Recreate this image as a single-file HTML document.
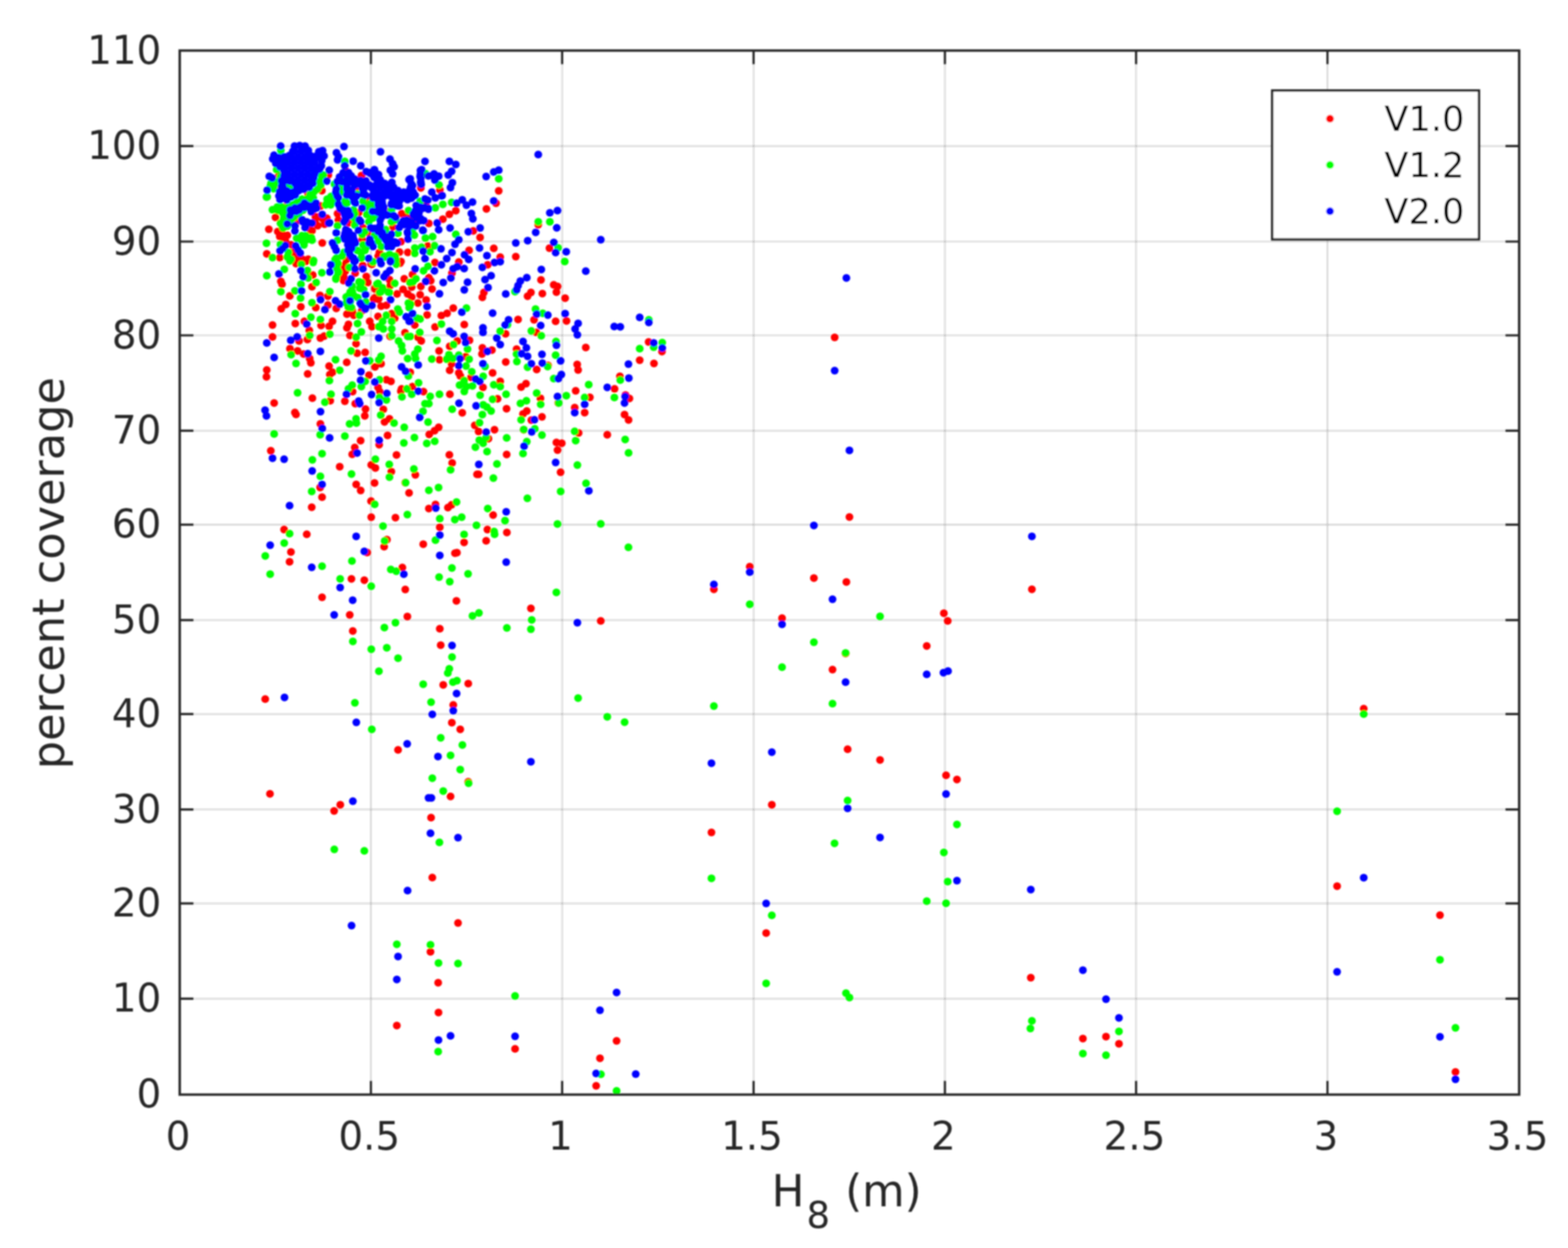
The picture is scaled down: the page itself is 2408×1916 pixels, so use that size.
<!DOCTYPE html>
<html lang="en"><head><meta charset="utf-8"><title>percent coverage vs H8</title>
<style>html,body{margin:0;padding:0;background:#fff}svg{display:block}text{font-family:"DejaVu Sans","Liberation Sans",sans-serif;fill:#262626}.tk{font-size:59.6px}.lb{font-size:67px}.lg{font-size:54px;fill:#000}</style></head><body>
<svg width="2408" height="1916" viewBox="0 0 2408 1916">
<rect x="0" y="0" width="2408" height="1916" fill="#fff"/>
<defs><filter id="sf" filterUnits="userSpaceOnUse" x="0" y="0" width="2408" height="1916"><feGaussianBlur stdDeviation="1.1"/></filter></defs>
<g filter="url(#sf)">
<path d="M569.6 77.6V1680.5M863.3 77.6V1680.5M1157.3 77.6V1680.5M1451.1 77.6V1680.5M1744.7 77.6V1680.5M2038.6 77.6V1680.5" stroke="#262626" stroke-opacity="0.17" stroke-width="2.4" fill="none"/><path d="M276.0 1533.3H2333.0M276.0 1387.0H2333.0M276.0 1242.7H2333.0M276.0 1096.2H2333.0M276.0 952.0H2333.0M276.0 805.5H2333.0M276.0 661.3H2333.0M276.0 514.9H2333.0M276.0 370.9H2333.0M276.0 224.3H2333.0" stroke="#262626" stroke-opacity="0.17" stroke-width="2.4" fill="none"/>
<g fill="#ff0000">
<circle cx="428.4" cy="269.1" r="6.0"/><circle cx="424.9" cy="288.6" r="6.0"/><circle cx="494.3" cy="292.7" r="6.0"/><circle cx="473.3" cy="298.5" r="6.0"/><circle cx="504.2" cy="268.8" r="6.0"/><circle cx="555.1" cy="269.4" r="6.0"/><circle cx="531.5" cy="263.0" r="6.0"/><circle cx="545.8" cy="292.7" r="6.0"/><circle cx="423.1" cy="333.8" r="6.0"/><circle cx="412.9" cy="351.9" r="6.0"/><circle cx="437.1" cy="317.5" r="6.0"/><circle cx="426.6" cy="355.4" r="6.0"/><circle cx="429.6" cy="363.0" r="6.0"/><circle cx="435.4" cy="367.1" r="6.0"/><circle cx="441.2" cy="361.2" r="6.0"/><circle cx="432.5" cy="358.3" r="6.0"/><circle cx="438.3" cy="370.0" r="6.0"/><circle cx="484.4" cy="332.7" r="6.0"/><circle cx="487.9" cy="346.6" r="6.0"/><circle cx="479.1" cy="354.2" r="6.0"/><circle cx="498.4" cy="344.3" r="6.0"/><circle cx="496.0" cy="336.2" r="6.0"/><circle cx="501.9" cy="335.0" r="6.0"/><circle cx="494.9" cy="372.9" r="6.0"/><circle cx="409.7" cy="389.8" r="6.0"/><circle cx="429.6" cy="395.6" r="6.0"/><circle cx="456.4" cy="338.5" r="6.0"/><circle cx="447.1" cy="375.8" r="6.0"/><circle cx="450.0" cy="387.5" r="6.0"/><circle cx="455.8" cy="396.2" r="6.0"/><circle cx="464.5" cy="398.0" r="6.0"/><circle cx="473.3" cy="398.0" r="6.0"/><circle cx="492.5" cy="316.3" r="6.0"/><circle cx="476.2" cy="352.5" r="6.0"/><circle cx="483.8" cy="340.8" r="6.0"/><circle cx="490.8" cy="332.7" r="6.0"/><circle cx="518.4" cy="328.0" r="6.0"/><circle cx="519.6" cy="337.9" r="6.0"/><circle cx="565.1" cy="308.7" r="6.0"/><circle cx="551.1" cy="326.2" r="6.0"/><circle cx="536.5" cy="342.0" r="6.0"/><circle cx="557.5" cy="349.6" r="6.0"/><circle cx="597.7" cy="324.5" r="6.0"/><circle cx="617.0" cy="328.0" r="6.0"/><circle cx="626.3" cy="332.7" r="6.0"/><circle cx="603.5" cy="348.4" r="6.0"/><circle cx="566.8" cy="358.3" r="6.0"/><circle cx="556.3" cy="367.6" r="6.0"/><circle cx="582.6" cy="387.5" r="6.0"/><circle cx="580.8" cy="393.3" r="6.0"/><circle cx="613.5" cy="386.9" r="6.0"/><circle cx="626.3" cy="387.5" r="6.0"/><circle cx="615.8" cy="371.1" r="6.0"/><circle cx="531.8" cy="399.1" r="6.0"/><circle cx="615.8" cy="401.5" r="6.0"/><circle cx="675.5" cy="291.5" r="6.0"/><circle cx="646.3" cy="288.6" r="6.0"/><circle cx="765.9" cy="292.9" r="6.0"/><circle cx="761.8" cy="312.0" r="6.0"/><circle cx="653.9" cy="315.5" r="6.0"/><circle cx="700.0" cy="323.6" r="6.0"/><circle cx="690.1" cy="328.9" r="6.0"/><circle cx="747.0" cy="320.7" r="6.0"/><circle cx="680.1" cy="336.4" r="6.0"/><circle cx="658.6" cy="342.9" r="6.0"/><circle cx="726.8" cy="354.5" r="6.0"/><circle cx="634.7" cy="339.9" r="6.0"/><circle cx="737.3" cy="364.4" r="6.0"/><circle cx="656.8" cy="377.8" r="6.0"/><circle cx="720.4" cy="384.3" r="6.0"/><circle cx="758.3" cy="381.3" r="6.0"/><circle cx="768.2" cy="394.8" r="6.0"/><circle cx="454.6" cy="404.7" r="6.0"/><circle cx="469.8" cy="401.2" r="6.0"/><circle cx="480.3" cy="422.2" r="6.0"/><circle cx="529.3" cy="411.7" r="6.0"/><circle cx="528.1" cy="427.4" r="6.0"/><circle cx="556.7" cy="408.7" r="6.0"/><circle cx="571.3" cy="405.8" r="6.0"/><circle cx="614.4" cy="404.1" r="6.0"/><circle cx="431.3" cy="432.1" r="6.0"/><circle cx="433.1" cy="436.2" r="6.0"/><circle cx="479.1" cy="440.2" r="6.0"/><circle cx="562.5" cy="424.5" r="6.0"/><circle cx="564.8" cy="433.8" r="6.0"/><circle cx="598.1" cy="429.2" r="6.0"/><circle cx="599.2" cy="438.5" r="6.0"/><circle cx="620.8" cy="428.0" r="6.0"/><circle cx="445.1" cy="454.2" r="6.0"/><circle cx="503.6" cy="454.8" r="6.0"/><circle cx="491.4" cy="453.6" r="6.0"/><circle cx="575.9" cy="443.7" r="6.0"/><circle cx="609.7" cy="451.3" r="6.0"/><circle cx="619.1" cy="444.3" r="6.0"/><circle cx="626.1" cy="451.3" r="6.0"/><circle cx="573.6" cy="459.5" r="6.0"/><circle cx="580.6" cy="459.5" r="6.0"/><circle cx="438.9" cy="467.6" r="6.0"/><circle cx="431.9" cy="474.1" r="6.0"/><circle cx="462.0" cy="470.9" r="6.0"/><circle cx="485.0" cy="472.3" r="6.0"/><circle cx="503.6" cy="468.2" r="6.0"/><circle cx="516.4" cy="473.5" r="6.0"/><circle cx="585.2" cy="470.0" r="6.0"/><circle cx="593.4" cy="468.8" r="6.0"/><circle cx="453.5" cy="496.8" r="6.0"/><circle cx="467.5" cy="493.3" r="6.0"/><circle cx="510.6" cy="493.3" r="6.0"/><circle cx="505.4" cy="500.9" r="6.0"/><circle cx="493.1" cy="499.7" r="6.0"/><circle cx="532.8" cy="482.2" r="6.0"/><circle cx="543.3" cy="484.0" r="6.0"/><circle cx="535.1" cy="498.0" r="6.0"/><circle cx="532.8" cy="503.2" r="6.0"/><circle cx="567.8" cy="493.3" r="6.0"/><circle cx="571.3" cy="501.5" r="6.0"/><circle cx="580.6" cy="485.7" r="6.0"/><circle cx="601.6" cy="481.6" r="6.0"/><circle cx="606.2" cy="488.6" r="6.0"/><circle cx="418.5" cy="499.1" r="6.0"/><circle cx="418.5" cy="517.2" r="6.0"/><circle cx="475.0" cy="507.3" r="6.0"/><circle cx="492.0" cy="519.0" r="6.0"/><circle cx="497.8" cy="516.0" r="6.0"/><circle cx="537.4" cy="514.9" r="6.0"/><circle cx="599.2" cy="516.6" r="6.0"/><circle cx="622.0" cy="510.8" r="6.0"/><circle cx="459.3" cy="523.6" r="6.0"/><circle cx="472.1" cy="521.3" r="6.0"/><circle cx="546.8" cy="527.7" r="6.0"/><circle cx="445.3" cy="535.3" r="6.0"/><circle cx="457.0" cy="538.8" r="6.0"/><circle cx="548.5" cy="542.3" r="6.0"/><circle cx="560.8" cy="541.1" r="6.0"/><circle cx="466.3" cy="543.4" r="6.0"/><circle cx="475.6" cy="550.4" r="6.0"/><circle cx="477.4" cy="556.9" r="6.0"/><circle cx="532.5" cy="556.3" r="6.0"/><circle cx="585.2" cy="558.6" r="6.0"/><circle cx="575.9" cy="563.3" r="6.0"/><circle cx="409.7" cy="567.9" r="6.0"/><circle cx="409.2" cy="578.4" r="6.0"/><circle cx="472.5" cy="574.1" r="6.0"/><circle cx="505.4" cy="562.1" r="6.0"/><circle cx="510.6" cy="571.4" r="6.0"/><circle cx="506.5" cy="574.9" r="6.0"/><circle cx="566.6" cy="576.1" r="6.0"/><circle cx="593.4" cy="583.1" r="6.0"/><circle cx="600.4" cy="585.4" r="6.0"/><circle cx="580.6" cy="594.8" r="6.0"/><circle cx="616.7" cy="597.1" r="6.0"/><circle cx="528.0" cy="407.5" r="6.0"/><circle cx="530.3" cy="416.2" r="6.0"/><circle cx="528.0" cy="425.0" r="6.0"/><circle cx="527.4" cy="430.8" r="6.0"/><circle cx="545.5" cy="419.2" r="6.0"/><circle cx="557.1" cy="407.5" r="6.0"/><circle cx="575.8" cy="457.1" r="6.0"/><circle cx="581.6" cy="458.8" r="6.0"/><circle cx="535.0" cy="480.4" r="6.0"/><circle cx="543.7" cy="483.3" r="6.0"/><circle cx="555.4" cy="477.5" r="6.0"/><circle cx="540.8" cy="476.3" r="6.0"/><circle cx="570.0" cy="405.2" r="6.0"/><circle cx="613.7" cy="401.7" r="6.0"/><circle cx="575.8" cy="442.5" r="6.0"/><circle cx="667.9" cy="402.9" r="6.0"/><circle cx="704.6" cy="402.3" r="6.0"/><circle cx="694.1" cy="419.2" r="6.0"/><circle cx="749.0" cy="406.4" r="6.0"/><circle cx="633.5" cy="421.6" r="6.0"/><circle cx="632.3" cy="440.8" r="6.0"/><circle cx="661.5" cy="430.9" r="6.0"/><circle cx="658.6" cy="426.2" r="6.0"/><circle cx="646.3" cy="439.7" r="6.0"/><circle cx="830.8" cy="429.7" r="6.0"/><circle cx="850.4" cy="437.3" r="6.0"/><circle cx="856.2" cy="439.7" r="6.0"/><circle cx="663.5" cy="443.7" r="6.0"/><circle cx="743.1" cy="449.0" r="6.0"/><circle cx="740.8" cy="456.6" r="6.0"/><circle cx="815.4" cy="449.0" r="6.0"/><circle cx="810.2" cy="454.8" r="6.0"/><circle cx="832.9" cy="450.7" r="6.0"/><circle cx="854.5" cy="448.4" r="6.0"/><circle cx="867.9" cy="457.7" r="6.0"/><circle cx="645.2" cy="452.5" r="6.0"/><circle cx="654.5" cy="460.6" r="6.0"/><circle cx="641.7" cy="465.3" r="6.0"/><circle cx="632.3" cy="456.0" r="6.0"/><circle cx="696.1" cy="473.1" r="6.0"/><circle cx="686.6" cy="481.0" r="6.0"/><circle cx="677.8" cy="484.5" r="6.0"/><circle cx="655.9" cy="483.4" r="6.0"/><circle cx="637.0" cy="499.1" r="6.0"/><circle cx="668.1" cy="502.0" r="6.0"/><circle cx="713.0" cy="498.3" r="6.0"/><circle cx="795.6" cy="490.4" r="6.0"/><circle cx="820.1" cy="491.0" r="6.0"/><circle cx="853.3" cy="493.3" r="6.0"/><circle cx="870.0" cy="492.7" r="6.0"/><circle cx="776.4" cy="512.5" r="6.0"/><circle cx="823.6" cy="510.2" r="6.0"/><circle cx="641.7" cy="517.8" r="6.0"/><circle cx="646.9" cy="523.6" r="6.0"/><circle cx="702.3" cy="523.6" r="6.0"/><circle cx="690.6" cy="531.8" r="6.0"/><circle cx="721.0" cy="522.4" r="6.0"/><circle cx="740.8" cy="534.1" r="6.0"/><circle cx="755.4" cy="537.6" r="6.0"/><circle cx="740.2" cy="543.4" r="6.0"/><circle cx="793.3" cy="535.9" r="6.0"/><circle cx="674.3" cy="538.8" r="6.0"/><circle cx="674.9" cy="552.2" r="6.0"/><circle cx="715.1" cy="547.5" r="6.0"/><circle cx="776.7" cy="555.7" r="6.0"/><circle cx="841.7" cy="560.9" r="6.0"/><circle cx="693.6" cy="558.6" r="6.0"/><circle cx="690.6" cy="568.5" r="6.0"/><circle cx="704.6" cy="572.6" r="6.0"/><circle cx="756.5" cy="572.6" r="6.0"/><circle cx="824.2" cy="567.3" r="6.0"/><circle cx="630.0" cy="571.4" r="6.0"/><circle cx="723.3" cy="579.6" r="6.0"/><circle cx="707.0" cy="577.3" r="6.0"/><circle cx="768.2" cy="585.4" r="6.0"/><circle cx="741.7" cy="594.8" r="6.0"/><circle cx="807.8" cy="588.9" r="6.0"/><circle cx="800.3" cy="594.2" r="6.0"/><circle cx="633.5" cy="593.6" r="6.0"/><circle cx="479.7" cy="611.3" r="6.0"/><circle cx="507.1" cy="615.2" r="6.0"/><circle cx="541.5" cy="601.2" r="6.0"/><circle cx="529.6" cy="616.0" r="6.0"/><circle cx="545.6" cy="619.8" r="6.0"/><circle cx="583.5" cy="601.7" r="6.0"/><circle cx="615.6" cy="600.6" r="6.0"/><circle cx="561.3" cy="628.0" r="6.0"/><circle cx="560.2" cy="638.5" r="6.0"/><circle cx="588.7" cy="628.6" r="6.0"/><circle cx="421.0" cy="618.7" r="6.0"/><circle cx="452.9" cy="633.2" r="6.0"/><circle cx="454.6" cy="636.2" r="6.0"/><circle cx="598.1" cy="643.1" r="6.0"/><circle cx="590.5" cy="647.8" r="6.0"/><circle cx="492.0" cy="650.7" r="6.0"/><circle cx="553.8" cy="676.6" r="6.0"/><circle cx="595.2" cy="668.5" r="6.0"/><circle cx="582.3" cy="682.8" r="6.0"/><circle cx="544.8" cy="686.9" r="6.0"/><circle cx="540.9" cy="697.4" r="6.0"/><circle cx="415.9" cy="692.1" r="6.0"/><circle cx="608.9" cy="698.5" r="6.0"/><circle cx="570.1" cy="713.7" r="6.0"/><circle cx="576.5" cy="718.4" r="6.0"/><circle cx="521.7" cy="716.6" r="6.0"/><circle cx="601.0" cy="724.0" r="6.0"/><circle cx="650.4" cy="601.2" r="6.0"/><circle cx="690.9" cy="605.2" r="6.0"/><circle cx="764.1" cy="612.2" r="6.0"/><circle cx="830.0" cy="611.4" r="6.0"/><circle cx="857.4" cy="618.4" r="6.0"/><circle cx="709.9" cy="633.8" r="6.0"/><circle cx="777.9" cy="627.6" r="6.0"/><circle cx="809.0" cy="630.9" r="6.0"/><circle cx="803.2" cy="635.6" r="6.0"/><circle cx="832.3" cy="640.0" r="6.0"/><circle cx="816.0" cy="644.9" r="6.0"/><circle cx="729.1" cy="653.1" r="6.0"/><circle cx="735.0" cy="662.4" r="6.0"/><circle cx="759.4" cy="659.7" r="6.0"/><circle cx="804.3" cy="659.7" r="6.0"/><circle cx="673.7" cy="656.0" r="6.0"/><circle cx="667.3" cy="661.2" r="6.0"/><circle cx="659.2" cy="667.1" r="6.0"/><circle cx="750.1" cy="673.5" r="6.0"/><circle cx="778.1" cy="697.7" r="6.0"/><circle cx="854.5" cy="679.3" r="6.0"/><circle cx="862.7" cy="680.5" r="6.0"/><circle cx="856.2" cy="691.0" r="6.0"/><circle cx="860.9" cy="725.1" r="6.0"/><circle cx="690.1" cy="698.3" r="6.0"/><circle cx="694.4" cy="710.8" r="6.0"/><circle cx="732.6" cy="728.3" r="6.0"/><circle cx="735.0" cy="728.3" r="6.0"/><circle cx="637.9" cy="728.9" r="6.0"/><circle cx="491.6" cy="748.4" r="6.0"/><circle cx="494.6" cy="763.3" r="6.0"/><circle cx="547.0" cy="743.7" r="6.0"/><circle cx="553.9" cy="753.1" r="6.0"/><circle cx="575.2" cy="741.5" r="6.0"/><circle cx="622.4" cy="740.9" r="6.0"/><circle cx="628.2" cy="756.8" r="6.0"/><circle cx="569.8" cy="769.3" r="6.0"/><circle cx="478.7" cy="778.8" r="6.0"/><circle cx="658.6" cy="780.7" r="6.0"/><circle cx="668.8" cy="774.5" r="6.0"/><circle cx="687.9" cy="779.2" r="6.0"/><circle cx="693.5" cy="774.9" r="6.0"/><circle cx="757.3" cy="790.8" r="6.0"/><circle cx="570.1" cy="794.1" r="6.0"/><circle cx="607.3" cy="794.7" r="6.0"/><circle cx="675.4" cy="809.4" r="6.0"/><circle cx="748.5" cy="813.1" r="6.0"/><circle cx="778.4" cy="817.4" r="6.0"/><circle cx="436.3" cy="813.1" r="6.0"/><circle cx="471.1" cy="820.2" r="6.0"/><circle cx="712.7" cy="832.7" r="6.0"/><circle cx="746.6" cy="830.3" r="6.0"/><circle cx="650.0" cy="835.5" r="6.0"/><circle cx="594.2" cy="828.6" r="6.0"/><circle cx="589.9" cy="839.3" r="6.0"/><circle cx="446.8" cy="847.5" r="6.0"/><circle cx="563.8" cy="848.2" r="6.0"/><circle cx="444.7" cy="862.6" r="6.0"/><circle cx="698.7" cy="849.2" r="6.0"/><circle cx="701.7" cy="848.6" r="6.0"/><circle cx="617.9" cy="871.2" r="6.0"/><circle cx="539.7" cy="888.7" r="6.0"/><circle cx="559.5" cy="890.8" r="6.0"/><circle cx="622.4" cy="904.9" r="6.0"/><circle cx="494.6" cy="916.9" r="6.0"/><circle cx="700.9" cy="922.5" r="6.0"/><circle cx="537.1" cy="944.1" r="6.0"/><circle cx="625.6" cy="946.6" r="6.0"/><circle cx="541.8" cy="968.8" r="6.0"/><circle cx="675.4" cy="965.2" r="6.0"/><circle cx="815.3" cy="934.1" r="6.0"/><circle cx="922.6" cy="953.3" r="6.0"/><circle cx="899.6" cy="533.6" r="6.0"/><circle cx="886.4" cy="559.6" r="6.0"/><circle cx="887.8" cy="568.0" r="6.0"/><circle cx="884.1" cy="600.1" r="6.0"/><circle cx="905.9" cy="609.9" r="6.0"/><circle cx="882.6" cy="625.8" r="6.0"/><circle cx="897.9" cy="633.6" r="6.0"/><circle cx="888.6" cy="664.8" r="6.0"/><circle cx="996.1" cy="525.0" r="6.0"/><circle cx="1016.6" cy="539.8" r="6.0"/><circle cx="982.4" cy="553.0" r="6.0"/><circle cx="1004.3" cy="558.1" r="6.0"/><circle cx="952.0" cy="577.7" r="6.0"/><circle cx="943.8" cy="596.9" r="6.0"/><circle cx="960.6" cy="606.6" r="6.0"/><circle cx="966.6" cy="611.8" r="6.0"/><circle cx="959.1" cy="636.4" r="6.0"/><circle cx="965.3" cy="644.8" r="6.0"/><circle cx="932.6" cy="667.6" r="6.0"/><circle cx="826.6" cy="345.1" r="6.0"/><circle cx="843.8" cy="381.1" r="6.0"/><circle cx="792.1" cy="394.0" r="6.0"/><circle cx="1281.8" cy="518.0" r="6.0"/><circle cx="1304.5" cy="793.7" r="6.0"/><circle cx="1151.4" cy="870.1" r="6.0"/><circle cx="1096.3" cy="904.8" r="6.0"/><circle cx="1249.9" cy="887.4" r="6.0"/><circle cx="1299.8" cy="893.6" r="6.0"/><circle cx="1584.7" cy="904.8" r="6.0"/><circle cx="1449.5" cy="941.4" r="6.0"/><circle cx="1455.4" cy="953.2" r="6.0"/><circle cx="1201.0" cy="949.0" r="6.0"/><circle cx="1298.6" cy="1003.3" r="6.0"/><circle cx="1423.2" cy="991.8" r="6.0"/><circle cx="1278.5" cy="1027.9" r="6.0"/><circle cx="1301.7" cy="1150.2" r="6.0"/><circle cx="1351.5" cy="1166.8" r="6.0"/><circle cx="1452.9" cy="1190.3" r="6.0"/><circle cx="1469.6" cy="1196.7" r="6.0"/><circle cx="1185.3" cy="1235.6" r="6.0"/><circle cx="1092.6" cy="1277.9" r="6.0"/><circle cx="1176.6" cy="1432.4" r="6.0"/><circle cx="1583.0" cy="1501.0" r="6.0"/><circle cx="1698.5" cy="1591.4" r="6.0"/><circle cx="1663.0" cy="1594.5" r="6.0"/><circle cx="1718.4" cy="1602.6" r="6.0"/><circle cx="2053.4" cy="1360.5" r="6.0"/><circle cx="2094.3" cy="1087.9" r="6.0"/><circle cx="2211.4" cy="1405.0" r="6.0"/><circle cx="2235.2" cy="1645.7" r="6.0"/><circle cx="522.6" cy="1235.4" r="6.0"/><circle cx="513.1" cy="1244.9" r="6.0"/><circle cx="691.9" cy="1222.8" r="6.0"/><circle cx="662.0" cy="1255.3" r="6.0"/><circle cx="663.9" cy="1347.3" r="6.0"/><circle cx="703.4" cy="1417.0" r="6.0"/><circle cx="661.1" cy="1461.3" r="6.0"/><circle cx="672.9" cy="1508.8" r="6.0"/><circle cx="673.4" cy="1554.5" r="6.0"/><circle cx="609.4" cy="1574.6" r="6.0"/><circle cx="791.0" cy="1610.2" r="6.0"/><circle cx="946.9" cy="1598.1" r="6.0"/><circle cx="921.4" cy="1624.7" r="6.0"/><circle cx="915.5" cy="1667.0" r="6.0"/><circle cx="676.8" cy="990.4" r="6.0"/><circle cx="680.7" cy="1051.4" r="6.0"/><circle cx="719.1" cy="1049.4" r="6.0"/><circle cx="407.3" cy="1073.2" r="6.0"/><circle cx="696.1" cy="1082.2" r="6.0"/><circle cx="693.9" cy="1109.6" r="6.0"/><circle cx="706.8" cy="1119.7" r="6.0"/><circle cx="611.3" cy="1151.3" r="6.0"/><circle cx="719.1" cy="1200.3" r="6.0"/><circle cx="414.6" cy="1218.7" r="6.0"/>
</g>
<g fill="#00ff00">
<circle cx="431.3" cy="230.9" r="6.0"/><circle cx="424.9" cy="260.6" r="6.0"/><circle cx="430.7" cy="271.1" r="6.0"/><circle cx="416.2" cy="281.6" r="6.0"/><circle cx="420.8" cy="284.5" r="6.0"/><circle cx="423.1" cy="278.7" r="6.0"/><circle cx="415.0" cy="286.3" r="6.0"/><circle cx="420.2" cy="289.8" r="6.0"/><circle cx="409.2" cy="302.6" r="6.0"/><circle cx="443.0" cy="285.7" r="6.0"/><circle cx="447.1" cy="287.5" r="6.0"/><circle cx="493.7" cy="270.0" r="6.0"/><circle cx="490.8" cy="278.7" r="6.0"/><circle cx="492.5" cy="284.5" r="6.0"/><circle cx="487.9" cy="290.4" r="6.0"/><circle cx="482.0" cy="294.5" r="6.0"/><circle cx="476.2" cy="298.5" r="6.0"/><circle cx="496.6" cy="268.8" r="6.0"/><circle cx="524.5" cy="287.5" r="6.0"/><circle cx="524.5" cy="294.5" r="6.0"/><circle cx="548.7" cy="298.0" r="6.0"/><circle cx="513.7" cy="282.8" r="6.0"/><circle cx="531.2" cy="276.4" r="6.0"/><circle cx="596.0" cy="296.2" r="6.0"/><circle cx="508.5" cy="301.5" r="6.0"/><circle cx="529.5" cy="247.8" r="6.0"/><circle cx="410.3" cy="302.3" r="6.0"/><circle cx="500.1" cy="314.6" r="6.0"/><circle cx="502.4" cy="305.8" r="6.0"/><circle cx="409.2" cy="373.5" r="6.0"/><circle cx="418.5" cy="395.6" r="6.0"/><circle cx="430.7" cy="375.2" r="6.0"/><circle cx="443.0" cy="387.5" r="6.0"/><circle cx="441.2" cy="394.5" r="6.0"/><circle cx="447.1" cy="398.0" r="6.0"/><circle cx="481.5" cy="400.0" r="6.0"/><circle cx="455.6" cy="365.7" r="6.0"/><circle cx="463.6" cy="369.4" r="6.0"/><circle cx="466.8" cy="376.0" r="6.0"/><circle cx="470.9" cy="368.1" r="6.0"/><circle cx="479.2" cy="368.8" r="6.0"/><circle cx="478.0" cy="364.8" r="6.0"/><circle cx="469.6" cy="361.8" r="6.0"/><circle cx="463.6" cy="361.8" r="6.0"/><circle cx="470.9" cy="367.7" r="6.0"/><circle cx="418.4" cy="322.0" r="6.0"/><circle cx="427.1" cy="322.9" r="6.0"/><circle cx="434.0" cy="327.1" r="6.0"/><circle cx="435.5" cy="335.7" r="6.0"/><circle cx="430.7" cy="342.7" r="6.0"/><circle cx="434.6" cy="350.0" r="6.0"/><circle cx="441.1" cy="347.3" r="6.0"/><circle cx="446.4" cy="340.4" r="6.0"/><circle cx="451.7" cy="333.5" r="6.0"/><circle cx="458.7" cy="328.3" r="6.0"/><circle cx="465.3" cy="322.7" r="6.0"/><circle cx="471.2" cy="316.3" r="6.0"/><circle cx="477.1" cy="309.9" r="6.0"/><circle cx="481.1" cy="303.9" r="6.0"/><circle cx="472.5" cy="304.8" r="6.0"/><circle cx="463.8" cy="305.8" r="6.0"/><circle cx="456.6" cy="310.6" r="6.0"/><circle cx="448.9" cy="314.7" r="6.0"/><circle cx="441.2" cy="318.7" r="6.0"/><circle cx="432.9" cy="317.8" r="6.0"/><circle cx="425.9" cy="317.8" r="6.0"/><circle cx="454.1" cy="312.6" r="6.0"/><circle cx="464.3" cy="312.6" r="6.0"/><circle cx="428.6" cy="321.5" r="6.0"/><circle cx="438.8" cy="321.5" r="6.0"/><circle cx="449.0" cy="321.5" r="6.0"/><circle cx="459.2" cy="321.5" r="6.0"/><circle cx="443.9" cy="330.3" r="6.0"/><circle cx="454.1" cy="330.3" r="6.0"/><circle cx="438.8" cy="339.1" r="6.0"/><circle cx="433.7" cy="348.0" r="6.0"/><circle cx="506.7" cy="305.8" r="6.0"/><circle cx="507.9" cy="314.6" r="6.0"/><circle cx="530.1" cy="308.7" r="6.0"/><circle cx="533.0" cy="311.7" r="6.0"/><circle cx="542.9" cy="322.2" r="6.0"/><circle cx="544.7" cy="328.0" r="6.0"/><circle cx="557.5" cy="308.7" r="6.0"/><circle cx="569.1" cy="311.7" r="6.0"/><circle cx="572.1" cy="316.3" r="6.0"/><circle cx="563.3" cy="329.2" r="6.0"/><circle cx="572.1" cy="335.0" r="6.0"/><circle cx="566.2" cy="340.8" r="6.0"/><circle cx="575.0" cy="333.2" r="6.0"/><circle cx="544.7" cy="345.5" r="6.0"/><circle cx="518.4" cy="346.6" r="6.0"/><circle cx="601.2" cy="340.8" r="6.0"/><circle cx="607.0" cy="337.9" r="6.0"/><circle cx="592.5" cy="352.5" r="6.0"/><circle cx="556.3" cy="360.1" r="6.0"/><circle cx="560.4" cy="355.4" r="6.0"/><circle cx="575.0" cy="361.2" r="6.0"/><circle cx="580.8" cy="370.0" r="6.0"/><circle cx="585.5" cy="378.7" r="6.0"/><circle cx="611.1" cy="358.3" r="6.0"/><circle cx="518.4" cy="368.8" r="6.0"/><circle cx="557.5" cy="375.8" r="6.0"/><circle cx="548.7" cy="384.5" r="6.0"/><circle cx="554.6" cy="387.5" r="6.0"/><circle cx="560.4" cy="384.5" r="6.0"/><circle cx="554.6" cy="396.2" r="6.0"/><circle cx="563.3" cy="378.7" r="6.0"/><circle cx="589.5" cy="393.3" r="6.0"/><circle cx="598.3" cy="390.4" r="6.0"/><circle cx="607.0" cy="393.3" r="6.0"/><circle cx="516.7" cy="396.2" r="6.0"/><circle cx="525.4" cy="393.3" r="6.0"/><circle cx="528.3" cy="387.5" r="6.0"/><circle cx="627.4" cy="323.3" r="6.0"/><circle cx="601.2" cy="322.2" r="6.0"/><circle cx="543.5" cy="335.0" r="6.0"/><circle cx="563.3" cy="317.5" r="6.0"/><circle cx="516.7" cy="308.7" r="6.0"/><circle cx="527.2" cy="315.2" r="6.0"/><circle cx="653.3" cy="266.5" r="6.0"/><circle cx="765.9" cy="274.6" r="6.0"/><circle cx="674.3" cy="284.0" r="6.0"/><circle cx="645.2" cy="309.0" r="6.0"/><circle cx="693.6" cy="310.8" r="6.0"/><circle cx="680.1" cy="313.7" r="6.0"/><circle cx="668.5" cy="319.0" r="6.0"/><circle cx="633.5" cy="351.6" r="6.0"/><circle cx="700.0" cy="359.8" r="6.0"/><circle cx="636.4" cy="360.9" r="6.0"/><circle cx="653.3" cy="365.6" r="6.0"/><circle cx="664.4" cy="363.3" r="6.0"/><circle cx="667.3" cy="377.3" r="6.0"/><circle cx="637.0" cy="380.8" r="6.0"/><circle cx="637.0" cy="388.9" r="6.0"/><circle cx="647.5" cy="379.6" r="6.0"/><circle cx="660.3" cy="386.6" r="6.0"/><circle cx="436.6" cy="413.4" r="6.0"/><circle cx="409.7" cy="423.3" r="6.0"/><circle cx="462.8" cy="405.8" r="6.0"/><circle cx="445.3" cy="400.6" r="6.0"/><circle cx="480.9" cy="402.9" r="6.0"/><circle cx="472.1" cy="415.2" r="6.0"/><circle cx="473.3" cy="426.8" r="6.0"/><circle cx="494.3" cy="418.7" r="6.0"/><circle cx="518.8" cy="404.7" r="6.0"/><circle cx="519.9" cy="417.5" r="6.0"/><circle cx="515.9" cy="428.6" r="6.0"/><circle cx="536.3" cy="410.5" r="6.0"/><circle cx="572.4" cy="402.3" r="6.0"/><circle cx="608.6" cy="405.8" r="6.0"/><circle cx="462.2" cy="436.2" r="6.0"/><circle cx="485.5" cy="433.8" r="6.0"/><circle cx="551.4" cy="432.7" r="6.0"/><circle cx="580.6" cy="435.0" r="6.0"/><circle cx="587.6" cy="442.0" r="6.0"/><circle cx="606.2" cy="435.0" r="6.0"/><circle cx="629.6" cy="433.8" r="6.0"/><circle cx="431.3" cy="447.8" r="6.0"/><circle cx="452.9" cy="446.6" r="6.0"/><circle cx="461.6" cy="457.7" r="6.0"/><circle cx="506.5" cy="447.8" r="6.0"/><circle cx="540.9" cy="447.8" r="6.0"/><circle cx="558.4" cy="444.3" r="6.0"/><circle cx="582.9" cy="449.0" r="6.0"/><circle cx="598.1" cy="449.0" r="6.0"/><circle cx="531.6" cy="456.0" r="6.0"/><circle cx="479.1" cy="464.7" r="6.0"/><circle cx="531.6" cy="465.3" r="6.0"/><circle cx="539.8" cy="472.3" r="6.0"/><circle cx="561.9" cy="463.6" r="6.0"/><circle cx="610.9" cy="474.6" r="6.0"/><circle cx="627.2" cy="465.3" r="6.0"/><circle cx="628.4" cy="472.3" r="6.0"/><circle cx="453.5" cy="481.6" r="6.0"/><circle cx="477.4" cy="486.9" r="6.0"/><circle cx="492.0" cy="490.4" r="6.0"/><circle cx="552.0" cy="484.0" r="6.0"/><circle cx="549.1" cy="496.8" r="6.0"/><circle cx="593.4" cy="484.0" r="6.0"/><circle cx="587.6" cy="493.3" r="6.0"/><circle cx="601.6" cy="493.3" r="6.0"/><circle cx="613.2" cy="479.3" r="6.0"/><circle cx="475.6" cy="514.9" r="6.0"/><circle cx="506.5" cy="513.1" r="6.0"/><circle cx="554.9" cy="509.6" r="6.0"/><circle cx="546.8" cy="517.8" r="6.0"/><circle cx="581.7" cy="501.5" r="6.0"/><circle cx="588.7" cy="505.0" r="6.0"/><circle cx="601.6" cy="505.0" r="6.0"/><circle cx="601.6" cy="515.5" r="6.0"/><circle cx="626.1" cy="516.6" r="6.0"/><circle cx="612.1" cy="523.6" r="6.0"/><circle cx="616.7" cy="530.6" r="6.0"/><circle cx="617.9" cy="538.8" r="6.0"/><circle cx="539.2" cy="538.8" r="6.0"/><circle cx="447.1" cy="544.6" r="6.0"/><circle cx="515.3" cy="552.2" r="6.0"/><circle cx="567.8" cy="553.9" r="6.0"/><circle cx="585.2" cy="546.9" r="6.0"/><circle cx="581.7" cy="552.8" r="6.0"/><circle cx="626.1" cy="550.4" r="6.0"/><circle cx="454.6" cy="558.0" r="6.0"/><circle cx="521.7" cy="568.5" r="6.0"/><circle cx="627.2" cy="577.3" r="6.0"/><circle cx="505.9" cy="584.3" r="6.0"/><circle cx="560.8" cy="585.4" r="6.0"/><circle cx="582.9" cy="583.1" r="6.0"/><circle cx="540.9" cy="591.3" r="6.0"/><circle cx="535.1" cy="597.1" r="6.0"/><circle cx="554.9" cy="593.6" r="6.0"/><circle cx="624.9" cy="597.1" r="6.0"/><circle cx="514.6" cy="398.7" r="6.0"/><circle cx="519.2" cy="404.6" r="6.0"/><circle cx="517.5" cy="412.2" r="6.0"/><circle cx="519.2" cy="419.2" r="6.0"/><circle cx="516.3" cy="426.2" r="6.0"/><circle cx="540.8" cy="439.6" r="6.0"/><circle cx="537.9" cy="448.3" r="6.0"/><circle cx="535.0" cy="454.1" r="6.0"/><circle cx="543.7" cy="454.1" r="6.0"/><circle cx="549.6" cy="457.1" r="6.0"/><circle cx="552.5" cy="442.5" r="6.0"/><circle cx="555.4" cy="433.7" r="6.0"/><circle cx="537.9" cy="462.9" r="6.0"/><circle cx="535.0" cy="471.6" r="6.0"/><circle cx="578.7" cy="436.6" r="6.0"/><circle cx="587.5" cy="442.5" r="6.0"/><circle cx="584.5" cy="448.3" r="6.0"/><circle cx="596.2" cy="448.3" r="6.0"/><circle cx="590.4" cy="394.7" r="6.0"/><circle cx="602.0" cy="393.5" r="6.0"/><circle cx="607.9" cy="398.7" r="6.0"/><circle cx="555.4" cy="395.8" r="6.0"/><circle cx="572.9" cy="401.7" r="6.0"/><circle cx="657.4" cy="408.7" r="6.0"/><circle cx="650.4" cy="415.7" r="6.0"/><circle cx="634.1" cy="432.7" r="6.0"/><circle cx="638.7" cy="428.0" r="6.0"/><circle cx="790.9" cy="447.8" r="6.0"/><circle cx="630.6" cy="467.1" r="6.0"/><circle cx="716.3" cy="472.9" r="6.0"/><circle cx="822.4" cy="474.6" r="6.0"/><circle cx="833.5" cy="481.0" r="6.0"/><circle cx="645.2" cy="489.8" r="6.0"/><circle cx="640.5" cy="488.6" r="6.0"/><circle cx="677.8" cy="497.4" r="6.0"/><circle cx="779.3" cy="498.5" r="6.0"/><circle cx="644.6" cy="510.2" r="6.0"/><circle cx="768.2" cy="508.5" r="6.0"/><circle cx="816.0" cy="507.9" r="6.0"/><circle cx="831.2" cy="515.5" r="6.0"/><circle cx="630.0" cy="516.6" r="6.0"/><circle cx="671.0" cy="522.8" r="6.0"/><circle cx="696.5" cy="528.9" r="6.0"/><circle cx="718.0" cy="535.9" r="6.0"/><circle cx="853.9" cy="524.2" r="6.0"/><circle cx="641.7" cy="535.9" r="6.0"/><circle cx="637.0" cy="543.4" r="6.0"/><circle cx="638.2" cy="550.4" r="6.0"/><circle cx="663.2" cy="551.3" r="6.0"/><circle cx="689.5" cy="544.6" r="6.0"/><circle cx="686.0" cy="551.6" r="6.0"/><circle cx="695.3" cy="550.4" r="6.0"/><circle cx="704.6" cy="545.2" r="6.0"/><circle cx="720.4" cy="551.6" r="6.0"/><circle cx="793.3" cy="543.4" r="6.0"/><circle cx="853.3" cy="545.2" r="6.0"/><circle cx="793.8" cy="555.1" r="6.0"/><circle cx="744.9" cy="562.7" r="6.0"/><circle cx="841.1" cy="562.7" r="6.0"/><circle cx="715.7" cy="562.1" r="6.0"/><circle cx="724.5" cy="570.8" r="6.0"/><circle cx="810.2" cy="563.8" r="6.0"/><circle cx="742.0" cy="577.8" r="6.0"/><circle cx="850.4" cy="581.3" r="6.0"/><circle cx="712.8" cy="584.3" r="6.0"/><circle cx="705.8" cy="591.3" r="6.0"/><circle cx="716.3" cy="593.6" r="6.0"/><circle cx="725.6" cy="592.4" r="6.0"/><circle cx="758.3" cy="590.7" r="6.0"/><circle cx="768.2" cy="593.6" r="6.0"/><circle cx="642.8" cy="587.8" r="6.0"/><circle cx="457.0" cy="602.9" r="6.0"/><circle cx="508.3" cy="605.2" r="6.0"/><circle cx="499.0" cy="617.5" r="6.0"/><circle cx="582.9" cy="609.9" r="6.0"/><circle cx="593.4" cy="614.0" r="6.0"/><circle cx="617.3" cy="609.3" r="6.0"/><circle cx="584.7" cy="637.3" r="6.0"/><circle cx="546.8" cy="643.1" r="6.0"/><circle cx="536.9" cy="650.7" r="6.0"/><circle cx="547.3" cy="649.6" r="6.0"/><circle cx="605.1" cy="649.6" r="6.0"/><circle cx="620.8" cy="656.0" r="6.0"/><circle cx="421.0" cy="666.2" r="6.0"/><circle cx="491.7" cy="667.6" r="6.0"/><circle cx="529.6" cy="669.6" r="6.0"/><circle cx="620.2" cy="679.9" r="6.0"/><circle cx="494.6" cy="696.6" r="6.0"/><circle cx="479.7" cy="705.9" r="6.0"/><circle cx="576.5" cy="705.0" r="6.0"/><circle cx="597.8" cy="712.9" r="6.0"/><circle cx="539.8" cy="727.7" r="6.0"/><circle cx="492.0" cy="731.2" r="6.0"/><circle cx="598.1" cy="732.6" r="6.0"/><circle cx="632.3" cy="605.2" r="6.0"/><circle cx="660.6" cy="608.4" r="6.0"/><circle cx="674.9" cy="605.2" r="6.0"/><circle cx="713.0" cy="600.9" r="6.0"/><circle cx="737.3" cy="606.8" r="6.0"/><circle cx="777.2" cy="605.2" r="6.0"/><circle cx="756.5" cy="613.1" r="6.0"/><circle cx="824.2" cy="603.5" r="6.0"/><circle cx="830.3" cy="620.8" r="6.0"/><circle cx="858.0" cy="618.7" r="6.0"/><circle cx="869.7" cy="607.6" r="6.0"/><circle cx="652.7" cy="619.8" r="6.0"/><circle cx="658.6" cy="619.8" r="6.0"/><circle cx="694.4" cy="628.3" r="6.0"/><circle cx="742.0" cy="621.6" r="6.0"/><circle cx="747.8" cy="625.1" r="6.0"/><circle cx="754.2" cy="630.9" r="6.0"/><circle cx="799.3" cy="619.2" r="6.0"/><circle cx="808.4" cy="615.2" r="6.0"/><circle cx="649.6" cy="631.5" r="6.0"/><circle cx="657.4" cy="648.0" r="6.0"/><circle cx="740.8" cy="636.4" r="6.0"/><circle cx="800.3" cy="644.5" r="6.0"/><circle cx="736.4" cy="649.0" r="6.0"/><circle cx="804.3" cy="659.5" r="6.0"/><circle cx="821.3" cy="658.3" r="6.0"/><circle cx="832.3" cy="667.9" r="6.0"/><circle cx="636.4" cy="671.7" r="6.0"/><circle cx="655.4" cy="680.8" r="6.0"/><circle cx="667.6" cy="677.6" r="6.0"/><circle cx="746.6" cy="671.7" r="6.0"/><circle cx="736.1" cy="675.8" r="6.0"/><circle cx="742.0" cy="680.5" r="6.0"/><circle cx="730.1" cy="686.5" r="6.0"/><circle cx="748.0" cy="693.3" r="6.0"/><circle cx="778.1" cy="672.3" r="6.0"/><circle cx="809.0" cy="678.1" r="6.0"/><circle cx="803.2" cy="696.2" r="6.0"/><circle cx="692.0" cy="721.3" r="6.0"/><circle cx="763.2" cy="712.2" r="6.0"/><circle cx="757.7" cy="734.1" r="6.0"/><circle cx="635.6" cy="720.1" r="6.0"/><circle cx="478.7" cy="754.6" r="6.0"/><circle cx="622.9" cy="741.1" r="6.0"/><circle cx="658.6" cy="752.7" r="6.0"/><circle cx="673.5" cy="748.4" r="6.0"/><circle cx="575.4" cy="774.3" r="6.0"/><circle cx="701.1" cy="770.8" r="6.0"/><circle cx="749.1" cy="780.7" r="6.0"/><circle cx="625.6" cy="790.0" r="6.0"/><circle cx="675.4" cy="796.3" r="6.0"/><circle cx="698.5" cy="797.8" r="6.0"/><circle cx="709.0" cy="794.1" r="6.0"/><circle cx="775.6" cy="799.3" r="6.0"/><circle cx="588.2" cy="807.7" r="6.0"/><circle cx="731.7" cy="806.6" r="6.0"/><circle cx="758.8" cy="816.1" r="6.0"/><circle cx="759.5" cy="820.2" r="6.0"/><circle cx="444.7" cy="819.3" r="6.0"/><circle cx="668.8" cy="829.2" r="6.0"/><circle cx="712.7" cy="820.6" r="6.0"/><circle cx="590.8" cy="830.5" r="6.0"/><circle cx="436.5" cy="833.7" r="6.0"/><circle cx="407.4" cy="853.4" r="6.0"/><circle cx="540.5" cy="861.3" r="6.0"/><circle cx="494.6" cy="869.3" r="6.0"/><circle cx="414.9" cy="881.4" r="6.0"/><circle cx="600.2" cy="874.3" r="6.0"/><circle cx="608.6" cy="877.1" r="6.0"/><circle cx="694.0" cy="872.1" r="6.0"/><circle cx="718.8" cy="880.9" r="6.0"/><circle cx="674.3" cy="886.1" r="6.0"/><circle cx="690.7" cy="893.0" r="6.0"/><circle cx="522.4" cy="888.7" r="6.0"/><circle cx="570.1" cy="899.9" r="6.0"/><circle cx="725.6" cy="945.6" r="6.0"/><circle cx="735.5" cy="941.1" r="6.0"/><circle cx="607.3" cy="955.9" r="6.0"/><circle cx="590.3" cy="963.5" r="6.0"/><circle cx="778.4" cy="963.9" r="6.0"/><circle cx="900.0" cy="741.9" r="6.0"/><circle cx="861.0" cy="754.6" r="6.0"/><circle cx="809.9" cy="765.0" r="6.0"/><circle cx="856.1" cy="804.6" r="6.0"/><circle cx="922.6" cy="804.2" r="6.0"/><circle cx="965.1" cy="840.2" r="6.0"/><circle cx="854.4" cy="909.6" r="6.0"/><circle cx="816.6" cy="951.8" r="6.0"/><circle cx="815.3" cy="966.1" r="6.0"/><circle cx="904.1" cy="590.4" r="6.0"/><circle cx="897.9" cy="610.3" r="6.0"/><circle cx="882.6" cy="662.2" r="6.0"/><circle cx="884.1" cy="676.6" r="6.0"/><circle cx="886.7" cy="713.9" r="6.0"/><circle cx="996.4" cy="490.9" r="6.0"/><circle cx="1003.9" cy="532.9" r="6.0"/><circle cx="1017.0" cy="526.0" r="6.0"/><circle cx="982.4" cy="535.3" r="6.0"/><circle cx="952.6" cy="583.6" r="6.0"/><circle cx="943.5" cy="610.3" r="6.0"/><circle cx="960.1" cy="674.7" r="6.0"/><circle cx="965.3" cy="695.2" r="6.0"/><circle cx="826.6" cy="340.5" r="6.0"/><circle cx="844.4" cy="340.5" r="6.0"/><circle cx="856.9" cy="380.6" r="6.0"/><circle cx="867.3" cy="401.5" r="6.0"/><circle cx="1151.4" cy="927.7" r="6.0"/><circle cx="1351.5" cy="946.2" r="6.0"/><circle cx="1249.9" cy="985.9" r="6.0"/><circle cx="1298.6" cy="1002.5" r="6.0"/><circle cx="1201.0" cy="1024.3" r="6.0"/><circle cx="1096.3" cy="1083.9" r="6.0"/><circle cx="1278.5" cy="1080.3" r="6.0"/><circle cx="1301.7" cy="1228.9" r="6.0"/><circle cx="1469.6" cy="1265.8" r="6.0"/><circle cx="1281.6" cy="1294.7" r="6.0"/><circle cx="1449.5" cy="1308.7" r="6.0"/><circle cx="1092.6" cy="1348.4" r="6.0"/><circle cx="1455.4" cy="1353.5" r="6.0"/><circle cx="1423.2" cy="1383.4" r="6.0"/><circle cx="1452.9" cy="1386.8" r="6.0"/><circle cx="1185.3" cy="1405.3" r="6.0"/><circle cx="1176.6" cy="1509.7" r="6.0"/><circle cx="1299.2" cy="1524.8" r="6.0"/><circle cx="1304.5" cy="1531.5" r="6.0"/><circle cx="1584.7" cy="1567.3" r="6.0"/><circle cx="1582.4" cy="1579.1" r="6.0"/><circle cx="1718.4" cy="1583.5" r="6.0"/><circle cx="1663.0" cy="1617.4" r="6.0"/><circle cx="1698.5" cy="1619.9" r="6.0"/><circle cx="2094.3" cy="1096.3" r="6.0"/><circle cx="2053.4" cy="1245.4" r="6.0"/><circle cx="2211.4" cy="1473.4" r="6.0"/><circle cx="2235.2" cy="1578.1" r="6.0"/><circle cx="674.8" cy="1293.3" r="6.0"/><circle cx="513.4" cy="1304.0" r="6.0"/><circle cx="559.5" cy="1306.2" r="6.0"/><circle cx="609.4" cy="1449.8" r="6.0"/><circle cx="661.1" cy="1450.6" r="6.0"/><circle cx="673.4" cy="1478.6" r="6.0"/><circle cx="703.4" cy="1479.2" r="6.0"/><circle cx="791.0" cy="1529.0" r="6.0"/><circle cx="672.9" cy="1614.6" r="6.0"/><circle cx="922.8" cy="1649.3" r="6.0"/><circle cx="946.9" cy="1674.8" r="6.0"/><circle cx="541.9" cy="984.8" r="6.0"/><circle cx="570.2" cy="996.8" r="6.0"/><circle cx="594.0" cy="994.6" r="6.0"/><circle cx="611.3" cy="1010.5" r="6.0"/><circle cx="694.2" cy="1008.8" r="6.0"/><circle cx="690.0" cy="1026.7" r="6.0"/><circle cx="687.7" cy="1033.2" r="6.0"/><circle cx="581.9" cy="1030.4" r="6.0"/><circle cx="649.9" cy="1050.5" r="6.0"/><circle cx="695.6" cy="1047.2" r="6.0"/><circle cx="701.7" cy="1044.9" r="6.0"/><circle cx="545.0" cy="1079.1" r="6.0"/><circle cx="662.0" cy="1078.0" r="6.0"/><circle cx="887.8" cy="1071.8" r="6.0"/><circle cx="932.6" cy="1100.6" r="6.0"/><circle cx="959.2" cy="1108.7" r="6.0"/><circle cx="571.0" cy="1119.7" r="6.0"/><circle cx="676.8" cy="1132.8" r="6.0"/><circle cx="710.1" cy="1143.7" r="6.0"/><circle cx="691.9" cy="1159.7" r="6.0"/><circle cx="706.8" cy="1181.5" r="6.0"/><circle cx="663.9" cy="1194.7" r="6.0"/><circle cx="719.6" cy="1202.5" r="6.0"/><circle cx="680.7" cy="1214.5" r="6.0"/>
</g>
<g fill="#0000ff">
<circle cx="431.0" cy="224.2" r="6.0"/><circle cx="413.5" cy="270.8" r="6.0"/><circle cx="417.9" cy="273.2" r="6.0"/><circle cx="410.3" cy="292.1" r="6.0"/><circle cx="501.9" cy="278.1" r="6.0"/><circle cx="418.9" cy="243.9" r="6.0"/><circle cx="423.6" cy="251.0" r="6.0"/><circle cx="429.8" cy="256.0" r="6.0"/><circle cx="435.8" cy="261.8" r="6.0"/><circle cx="436.2" cy="269.8" r="6.0"/><circle cx="432.2" cy="277.4" r="6.0"/><circle cx="432.5" cy="285.9" r="6.0"/><circle cx="429.5" cy="294.0" r="6.0"/><circle cx="428.4" cy="300.7" r="6.0"/><circle cx="437.0" cy="300.7" r="6.0"/><circle cx="445.5" cy="300.7" r="6.0"/><circle cx="453.4" cy="299.4" r="6.0"/><circle cx="458.7" cy="292.7" r="6.0"/><circle cx="466.9" cy="290.5" r="6.0"/><circle cx="474.9" cy="287.4" r="6.0"/><circle cx="480.5" cy="281.4" r="6.0"/><circle cx="481.8" cy="273.0" r="6.0"/><circle cx="484.1" cy="264.7" r="6.0"/><circle cx="490.8" cy="259.8" r="6.0"/><circle cx="493.5" cy="254.5" r="6.0"/><circle cx="494.1" cy="246.5" r="6.0"/><circle cx="497.7" cy="239.4" r="6.0"/><circle cx="495.4" cy="231.2" r="6.0"/><circle cx="489.6" cy="233.1" r="6.0"/><circle cx="484.7" cy="240.0" r="6.0"/><circle cx="476.9" cy="238.9" r="6.0"/><circle cx="473.5" cy="231.1" r="6.0"/><circle cx="468.5" cy="224.2" r="6.0"/><circle cx="460.3" cy="223.5" r="6.0"/><circle cx="452.3" cy="224.2" r="6.0"/><circle cx="449.7" cy="232.3" r="6.0"/><circle cx="444.4" cy="238.7" r="6.0"/><circle cx="436.3" cy="240.8" r="6.0"/><circle cx="428.1" cy="242.1" r="6.0"/><circle cx="420.9" cy="238.3" r="6.0"/><circle cx="444.8" cy="277.9" r="6.0"/><circle cx="453.0" cy="281.7" r="6.0"/><circle cx="455.5" cy="290.0" r="6.0"/><circle cx="449.4" cy="295.3" r="6.0"/><circle cx="440.7" cy="293.0" r="6.0"/><circle cx="434.6" cy="286.9" r="6.0"/><circle cx="436.0" cy="278.5" r="6.0"/><circle cx="452.4" cy="232.3" r="6.0"/><circle cx="462.6" cy="232.3" r="6.0"/><circle cx="472.8" cy="232.3" r="6.0"/><circle cx="493.2" cy="232.3" r="6.0"/><circle cx="437.1" cy="241.2" r="6.0"/><circle cx="447.3" cy="241.2" r="6.0"/><circle cx="457.5" cy="241.2" r="6.0"/><circle cx="467.7" cy="241.2" r="6.0"/><circle cx="477.9" cy="241.2" r="6.0"/><circle cx="488.1" cy="241.2" r="6.0"/><circle cx="432.0" cy="250.0" r="6.0"/><circle cx="442.2" cy="250.0" r="6.0"/><circle cx="452.4" cy="250.0" r="6.0"/><circle cx="462.6" cy="250.0" r="6.0"/><circle cx="472.8" cy="250.0" r="6.0"/><circle cx="483.0" cy="250.0" r="6.0"/><circle cx="437.1" cy="258.8" r="6.0"/><circle cx="447.3" cy="258.8" r="6.0"/><circle cx="457.5" cy="258.8" r="6.0"/><circle cx="467.7" cy="258.8" r="6.0"/><circle cx="477.9" cy="258.8" r="6.0"/><circle cx="488.1" cy="258.8" r="6.0"/><circle cx="442.2" cy="267.7" r="6.0"/><circle cx="452.4" cy="267.7" r="6.0"/><circle cx="462.6" cy="267.7" r="6.0"/><circle cx="472.8" cy="267.7" r="6.0"/><circle cx="483.0" cy="267.7" r="6.0"/><circle cx="437.1" cy="276.5" r="6.0"/><circle cx="447.3" cy="276.5" r="6.0"/><circle cx="457.5" cy="276.5" r="6.0"/><circle cx="467.7" cy="276.5" r="6.0"/><circle cx="477.9" cy="276.5" r="6.0"/><circle cx="462.6" cy="285.3" r="6.0"/><circle cx="472.8" cy="285.3" r="6.0"/><circle cx="437.1" cy="294.2" r="6.0"/><circle cx="528.3" cy="225.1" r="6.0"/><circle cx="516.7" cy="234.4" r="6.0"/><circle cx="519.9" cy="240.8" r="6.0"/><circle cx="518.4" cy="245.5" r="6.0"/><circle cx="542.3" cy="247.5" r="6.0"/><circle cx="529.5" cy="254.2" r="6.0"/><circle cx="554.0" cy="254.5" r="6.0"/><circle cx="584.3" cy="232.9" r="6.0"/><circle cx="598.9" cy="244.3" r="6.0"/><circle cx="603.0" cy="251.3" r="6.0"/><circle cx="605.3" cy="256.0" r="6.0"/><circle cx="599.5" cy="261.2" r="6.0"/><circle cx="603.0" cy="267.1" r="6.0"/><circle cx="505.6" cy="261.2" r="6.0"/><circle cx="629.2" cy="276.4" r="6.0"/><circle cx="562.4" cy="263.6" r="6.0"/><circle cx="575.0" cy="260.6" r="6.0"/><circle cx="601.8" cy="279.9" r="6.0"/><circle cx="517.7" cy="300.7" r="6.0"/><circle cx="516.6" cy="289.9" r="6.0"/><circle cx="515.7" cy="295.6" r="6.0"/><circle cx="539.2" cy="300.7" r="6.0"/><circle cx="540.4" cy="292.2" r="6.0"/><circle cx="544.6" cy="284.7" r="6.0"/><circle cx="552.1" cy="282.7" r="6.0"/><circle cx="556.7" cy="289.8" r="6.0"/><circle cx="557.8" cy="298.2" r="6.0"/><circle cx="561.4" cy="299.7" r="6.0"/><circle cx="557.8" cy="292.0" r="6.0"/><circle cx="562.8" cy="286.1" r="6.0"/><circle cx="570.9" cy="288.4" r="6.0"/><circle cx="574.0" cy="296.3" r="6.0"/><circle cx="573.5" cy="300.7" r="6.0"/><circle cx="582.1" cy="300.7" r="6.0"/><circle cx="590.8" cy="300.7" r="6.0"/><circle cx="599.4" cy="300.7" r="6.0"/><circle cx="608.0" cy="300.7" r="6.0"/><circle cx="615.3" cy="299.9" r="6.0"/><circle cx="611.0" cy="292.4" r="6.0"/><circle cx="604.2" cy="287.3" r="6.0"/><circle cx="598.9" cy="283.5" r="6.0"/><circle cx="590.6" cy="281.6" r="6.0"/><circle cx="583.9" cy="276.1" r="6.0"/><circle cx="581.3" cy="268.0" r="6.0"/><circle cx="575.3" cy="261.9" r="6.0"/><circle cx="568.2" cy="264.9" r="6.0"/><circle cx="569.0" cy="266.2" r="6.0"/><circle cx="575.0" cy="272.4" r="6.0"/><circle cx="579.9" cy="279.3" r="6.0"/><circle cx="575.1" cy="285.7" r="6.0"/><circle cx="567.5" cy="284.2" r="6.0"/><circle cx="561.7" cy="277.7" r="6.0"/><circle cx="553.8" cy="277.2" r="6.0"/><circle cx="545.4" cy="275.2" r="6.0"/><circle cx="539.3" cy="269.9" r="6.0"/><circle cx="535.2" cy="264.9" r="6.0"/><circle cx="527.0" cy="265.3" r="6.0"/><circle cx="521.4" cy="271.8" r="6.0"/><circle cx="517.9" cy="278.9" r="6.0"/><circle cx="524.8" cy="279.0" r="6.0"/><circle cx="532.2" cy="282.3" r="6.0"/><circle cx="532.7" cy="290.8" r="6.0"/><circle cx="532.5" cy="299.4" r="6.0"/><circle cx="532.8" cy="270.0" r="6.0"/><circle cx="573.6" cy="270.0" r="6.0"/><circle cx="527.7" cy="278.9" r="6.0"/><circle cx="537.9" cy="278.9" r="6.0"/><circle cx="548.1" cy="278.9" r="6.0"/><circle cx="558.3" cy="278.9" r="6.0"/><circle cx="532.8" cy="287.7" r="6.0"/><circle cx="573.6" cy="287.7" r="6.0"/><circle cx="583.8" cy="287.7" r="6.0"/><circle cx="594.0" cy="287.7" r="6.0"/><circle cx="604.2" cy="287.7" r="6.0"/><circle cx="537.9" cy="296.5" r="6.0"/><circle cx="558.3" cy="296.5" r="6.0"/><circle cx="578.7" cy="296.5" r="6.0"/><circle cx="588.9" cy="296.5" r="6.0"/><circle cx="599.1" cy="296.5" r="6.0"/><circle cx="609.3" cy="296.5" r="6.0"/><circle cx="630.8" cy="300.7" r="6.0"/><circle cx="630.8" cy="291.0" r="6.0"/><circle cx="629.2" cy="296.2" r="6.0"/><circle cx="430.1" cy="306.4" r="6.0"/><circle cx="440.6" cy="307.0" r="6.0"/><circle cx="436.0" cy="302.3" r="6.0"/><circle cx="447.1" cy="302.3" r="6.0"/><circle cx="494.9" cy="329.2" r="6.0"/><circle cx="504.8" cy="342.6" r="6.0"/><circle cx="438.3" cy="377.0" r="6.0"/><circle cx="434.2" cy="381.6" r="6.0"/><circle cx="430.1" cy="385.1" r="6.0"/><circle cx="454.1" cy="377.6" r="6.0"/><circle cx="457.6" cy="383.4" r="6.0"/><circle cx="461.0" cy="388.6" r="6.0"/><circle cx="445.9" cy="322.2" r="6.0"/><circle cx="452.9" cy="319.2" r="6.0"/><circle cx="461.6" cy="317.5" r="6.0"/><circle cx="467.5" cy="311.7" r="6.0"/><circle cx="471.0" cy="314.6" r="6.0"/><circle cx="479.1" cy="316.3" r="6.0"/><circle cx="485.0" cy="311.7" r="6.0"/><circle cx="486.1" cy="319.2" r="6.0"/><circle cx="478.0" cy="325.1" r="6.0"/><circle cx="455.2" cy="324.5" r="6.0"/><circle cx="445.3" cy="330.9" r="6.0"/><circle cx="441.2" cy="343.7" r="6.0"/><circle cx="452.9" cy="346.6" r="6.0"/><circle cx="452.9" cy="354.8" r="6.0"/><circle cx="464.0" cy="337.3" r="6.0"/><circle cx="471.0" cy="340.8" r="6.0"/><circle cx="479.1" cy="342.6" r="6.0"/><circle cx="468.6" cy="349.6" r="6.0"/><circle cx="450.4" cy="324.4" r="6.0"/><circle cx="459.5" cy="322.6" r="6.0"/><circle cx="467.4" cy="318.5" r="6.0"/><circle cx="475.7" cy="319.6" r="6.0"/><circle cx="482.2" cy="321.0" r="6.0"/><circle cx="482.1" cy="316.9" r="6.0"/><circle cx="473.2" cy="316.1" r="6.0"/><circle cx="465.3" cy="315.3" r="6.0"/><circle cx="458.0" cy="320.6" r="6.0"/><circle cx="455.5" cy="322.3" r="6.0"/><circle cx="464.7" cy="340.3" r="6.0"/><circle cx="469.5" cy="347.3" r="6.0"/><circle cx="471.8" cy="341.3" r="6.0"/><circle cx="556.3" cy="319.5" r="6.0"/><circle cx="551.6" cy="337.6" r="6.0"/><circle cx="554.0" cy="340.5" r="6.0"/><circle cx="550.5" cy="353.6" r="6.0"/><circle cx="516.4" cy="357.4" r="6.0"/><circle cx="510.8" cy="372.9" r="6.0"/><circle cx="513.7" cy="378.7" r="6.0"/><circle cx="516.4" cy="384.5" r="6.0"/><circle cx="568.0" cy="367.3" r="6.0"/><circle cx="570.3" cy="372.9" r="6.0"/><circle cx="572.9" cy="378.4" r="6.0"/><circle cx="626.3" cy="358.3" r="6.0"/><circle cx="626.6" cy="367.1" r="6.0"/><circle cx="506.2" cy="342.0" r="6.0"/><circle cx="566.2" cy="396.8" r="6.0"/><circle cx="583.7" cy="400.3" r="6.0"/><circle cx="599.5" cy="400.3" r="6.0"/><circle cx="519.6" cy="303.5" r="6.0"/><circle cx="542.9" cy="304.7" r="6.0"/><circle cx="545.8" cy="311.7" r="6.0"/><circle cx="586.6" cy="308.7" r="6.0"/><circle cx="580.8" cy="314.6" r="6.0"/><circle cx="607.0" cy="311.7" r="6.0"/><circle cx="612.9" cy="316.3" r="6.0"/><circle cx="601.2" cy="314.6" r="6.0"/><circle cx="519.6" cy="313.4" r="6.0"/><circle cx="522.5" cy="320.4" r="6.0"/><circle cx="528.3" cy="326.2" r="6.0"/><circle cx="534.2" cy="323.3" r="6.0"/><circle cx="537.7" cy="330.3" r="6.0"/><circle cx="530.7" cy="335.0" r="6.0"/><circle cx="528.3" cy="340.8" r="6.0"/><circle cx="572.1" cy="324.5" r="6.0"/><circle cx="580.8" cy="323.3" r="6.0"/><circle cx="589.5" cy="326.2" r="6.0"/><circle cx="595.4" cy="330.3" r="6.0"/><circle cx="604.1" cy="330.9" r="6.0"/><circle cx="607.6" cy="333.8" r="6.0"/><circle cx="583.7" cy="337.9" r="6.0"/><circle cx="583.7" cy="346.6" r="6.0"/><circle cx="572.1" cy="351.3" r="6.0"/><circle cx="569.1" cy="349.6" r="6.0"/><circle cx="575.6" cy="350.7" r="6.0"/><circle cx="580.8" cy="355.4" r="6.0"/><circle cx="621.6" cy="339.7" r="6.0"/><circle cx="615.8" cy="343.7" r="6.0"/><circle cx="627.4" cy="343.7" r="6.0"/><circle cx="612.9" cy="349.6" r="6.0"/><circle cx="624.5" cy="337.9" r="6.0"/><circle cx="531.2" cy="352.5" r="6.0"/><circle cx="534.2" cy="358.3" r="6.0"/><circle cx="528.3" cy="364.1" r="6.0"/><circle cx="540.0" cy="361.2" r="6.0"/><circle cx="537.1" cy="370.0" r="6.0"/><circle cx="545.8" cy="372.9" r="6.0"/><circle cx="542.9" cy="367.1" r="6.0"/><circle cx="534.2" cy="375.8" r="6.0"/><circle cx="540.0" cy="381.6" r="6.0"/><circle cx="534.2" cy="384.5" r="6.0"/><circle cx="601.2" cy="359.5" r="6.0"/><circle cx="592.5" cy="364.1" r="6.0"/><circle cx="586.6" cy="361.2" r="6.0"/><circle cx="566.8" cy="372.9" r="6.0"/><circle cx="598.3" cy="372.9" r="6.0"/><circle cx="607.0" cy="371.7" r="6.0"/><circle cx="610.0" cy="372.9" r="6.0"/><circle cx="595.4" cy="378.7" r="6.0"/><circle cx="601.2" cy="378.7" r="6.0"/><circle cx="537.1" cy="390.4" r="6.0"/><circle cx="542.9" cy="396.2" r="6.0"/><circle cx="545.8" cy="400.0" r="6.0"/><circle cx="540.3" cy="300.5" r="6.0"/><circle cx="543.7" cy="309.4" r="6.0"/><circle cx="547.7" cy="301.0" r="6.0"/><circle cx="572.6" cy="303.8" r="6.0"/><circle cx="580.6" cy="308.2" r="6.0"/><circle cx="581.9" cy="316.6" r="6.0"/><circle cx="578.0" cy="324.4" r="6.0"/><circle cx="580.5" cy="326.1" r="6.0"/><circle cx="586.6" cy="332.5" r="6.0"/><circle cx="590.4" cy="328.5" r="6.0"/><circle cx="589.0" cy="319.6" r="6.0"/><circle cx="587.0" cy="312.4" r="6.0"/><circle cx="585.8" cy="303.4" r="6.0"/><circle cx="581.3" cy="300.2" r="6.0"/><circle cx="572.2" cy="300.2" r="6.0"/><circle cx="583.9" cy="309.0" r="6.0"/><circle cx="589.0" cy="317.8" r="6.0"/><circle cx="583.9" cy="326.7" r="6.0"/><circle cx="608.4" cy="315.8" r="6.0"/><circle cx="613.3" cy="308.9" r="6.0"/><circle cx="619.8" cy="303.8" r="6.0"/><circle cx="628.8" cy="302.6" r="6.0"/><circle cx="624.8" cy="300.2" r="6.0"/><circle cx="615.8" cy="300.2" r="6.0"/><circle cx="606.8" cy="300.2" r="6.0"/><circle cx="602.6" cy="303.6" r="6.0"/><circle cx="601.4" cy="312.5" r="6.0"/><circle cx="606.2" cy="309.0" r="6.0"/><circle cx="583.6" cy="349.6" r="6.0"/><circle cx="584.6" cy="356.7" r="6.0"/><circle cx="589.3" cy="364.0" r="6.0"/><circle cx="594.2" cy="371.1" r="6.0"/><circle cx="599.1" cy="377.5" r="6.0"/><circle cx="606.4" cy="373.4" r="6.0"/><circle cx="605.1" cy="371.6" r="6.0"/><circle cx="598.4" cy="367.1" r="6.0"/><circle cx="593.1" cy="363.6" r="6.0"/><circle cx="587.3" cy="357.1" r="6.0"/><circle cx="586.8" cy="358.3" r="6.0"/><circle cx="591.9" cy="367.2" r="6.0"/><circle cx="597.0" cy="376.0" r="6.0"/><circle cx="620.5" cy="344.8" r="6.0"/><circle cx="629.6" cy="345.0" r="6.0"/><circle cx="626.7" cy="339.5" r="6.0"/><circle cx="618.4" cy="341.1" r="6.0"/><circle cx="529.9" cy="358.6" r="6.0"/><circle cx="529.2" cy="366.8" r="6.0"/><circle cx="535.4" cy="372.2" r="6.0"/><circle cx="536.1" cy="381.2" r="6.0"/><circle cx="541.6" cy="375.7" r="6.0"/><circle cx="544.8" cy="370.4" r="6.0"/><circle cx="541.9" cy="361.8" r="6.0"/><circle cx="535.4" cy="355.6" r="6.0"/><circle cx="533.5" cy="362.6" r="6.0"/><circle cx="538.6" cy="371.4" r="6.0"/><circle cx="540.0" cy="394.5" r="6.0"/><circle cx="544.0" cy="400.7" r="6.0"/><circle cx="522.6" cy="318.9" r="6.0"/><circle cx="527.7" cy="322.5" r="6.0"/><circle cx="530.0" cy="330.6" r="6.0"/><circle cx="530.6" cy="337.5" r="6.0"/><circle cx="536.6" cy="331.1" r="6.0"/><circle cx="535.3" cy="323.9" r="6.0"/><circle cx="532.4" cy="331.1" r="6.0"/><circle cx="652.7" cy="247.8" r="6.0"/><circle cx="690.1" cy="247.8" r="6.0"/><circle cx="700.0" cy="252.5" r="6.0"/><circle cx="647.5" cy="260.6" r="6.0"/><circle cx="693.6" cy="263.0" r="6.0"/><circle cx="688.3" cy="268.8" r="6.0"/><circle cx="658.0" cy="270.0" r="6.0"/><circle cx="665.0" cy="270.0" r="6.0"/><circle cx="673.7" cy="270.6" r="6.0"/><circle cx="667.9" cy="276.4" r="6.0"/><circle cx="746.6" cy="271.1" r="6.0"/><circle cx="758.3" cy="264.1" r="6.0"/><circle cx="765.9" cy="261.2" r="6.0"/><circle cx="645.2" cy="271.1" r="6.0"/><circle cx="646.3" cy="280.5" r="6.0"/><circle cx="630.0" cy="274.6" r="6.0"/><circle cx="694.7" cy="280.5" r="6.0"/><circle cx="691.8" cy="288.0" r="6.0"/><circle cx="663.2" cy="295.0" r="6.0"/><circle cx="679.0" cy="300.3" r="6.0"/><circle cx="668.5" cy="303.8" r="6.0"/><circle cx="656.8" cy="307.3" r="6.0"/><circle cx="633.5" cy="285.1" r="6.0"/><circle cx="637.0" cy="300.3" r="6.0"/><circle cx="758.3" cy="308.5" r="6.0"/><circle cx="701.1" cy="312.0" r="6.0"/><circle cx="709.9" cy="306.7" r="6.0"/><circle cx="716.3" cy="314.9" r="6.0"/><circle cx="725.6" cy="310.2" r="6.0"/><circle cx="640.5" cy="316.6" r="6.0"/><circle cx="648.7" cy="320.1" r="6.0"/><circle cx="658.0" cy="320.1" r="6.0"/><circle cx="723.9" cy="327.7" r="6.0"/><circle cx="726.2" cy="335.9" r="6.0"/><circle cx="634.7" cy="328.3" r="6.0"/><circle cx="671.4" cy="342.3" r="6.0"/><circle cx="673.7" cy="352.8" r="6.0"/><circle cx="691.2" cy="349.9" r="6.0"/><circle cx="737.3" cy="349.9" r="6.0"/><circle cx="719.2" cy="355.7" r="6.0"/><circle cx="645.2" cy="338.8" r="6.0"/><circle cx="638.2" cy="346.9" r="6.0"/><circle cx="649.8" cy="353.9" r="6.0"/><circle cx="704.6" cy="367.9" r="6.0"/><circle cx="698.8" cy="374.9" r="6.0"/><circle cx="649.8" cy="385.4" r="6.0"/><circle cx="677.2" cy="381.9" r="6.0"/><circle cx="694.1" cy="387.8" r="6.0"/><circle cx="713.4" cy="391.3" r="6.0"/><circle cx="719.8" cy="398.3" r="6.0"/><circle cx="736.4" cy="380.8" r="6.0"/><circle cx="747.8" cy="392.4" r="6.0"/><circle cx="652.7" cy="397.1" r="6.0"/><circle cx="686.0" cy="397.1" r="6.0"/><circle cx="645.7" cy="261.7" r="6.0"/><circle cx="645.7" cy="267.6" r="6.0"/><circle cx="646.2" cy="273.4" r="6.0"/><circle cx="646.2" cy="279.2" r="6.0"/><circle cx="646.8" cy="283.3" r="6.0"/><circle cx="628.2" cy="275.7" r="6.0"/><circle cx="631.7" cy="282.2" r="6.0"/><circle cx="630.5" cy="288.0" r="6.0"/><circle cx="628.7" cy="292.7" r="6.0"/><circle cx="634.6" cy="295.0" r="6.0"/><circle cx="637.5" cy="299.7" r="6.0"/><circle cx="625.8" cy="300.8" r="6.0"/><circle cx="622.9" cy="297.9" r="6.0"/><circle cx="620.0" cy="295.0" r="6.0"/><circle cx="631.7" cy="304.3" r="6.0"/><circle cx="625.8" cy="306.6" r="6.0"/><circle cx="666.6" cy="267.0" r="6.0"/><circle cx="678.3" cy="300.8" r="6.0"/><circle cx="652.7" cy="305.5" r="6.0"/><circle cx="639.2" cy="315.4" r="6.0"/><circle cx="646.2" cy="318.3" r="6.0"/><circle cx="652.1" cy="318.3" r="6.0"/><circle cx="657.9" cy="321.2" r="6.0"/><circle cx="637.5" cy="324.1" r="6.0"/><circle cx="643.3" cy="327.1" r="6.0"/><circle cx="634.6" cy="330.0" r="6.0"/><circle cx="640.4" cy="334.6" r="6.0"/><circle cx="646.2" cy="335.8" r="6.0"/><circle cx="650.9" cy="338.7" r="6.0"/><circle cx="625.8" cy="338.7" r="6.0"/><circle cx="631.7" cy="341.6" r="6.0"/><circle cx="622.9" cy="344.5" r="6.0"/><circle cx="628.7" cy="347.5" r="6.0"/><circle cx="637.5" cy="346.3" r="6.0"/><circle cx="649.2" cy="353.3" r="6.0"/><circle cx="625.8" cy="356.2" r="6.0"/><circle cx="620.0" cy="338.7" r="6.0"/><circle cx="428.4" cy="420.4" r="6.0"/><circle cx="462.2" cy="415.2" r="6.0"/><circle cx="465.7" cy="425.1" r="6.0"/><circle cx="508.3" cy="406.4" r="6.0"/><circle cx="506.5" cy="417.5" r="6.0"/><circle cx="545.0" cy="412.8" r="6.0"/><circle cx="557.3" cy="412.8" r="6.0"/><circle cx="543.8" cy="401.7" r="6.0"/><circle cx="585.2" cy="404.7" r="6.0"/><circle cx="599.8" cy="401.7" r="6.0"/><circle cx="577.7" cy="418.7" r="6.0"/><circle cx="598.7" cy="415.2" r="6.0"/><circle cx="589.9" cy="425.1" r="6.0"/><circle cx="539.2" cy="428.0" r="6.0"/><circle cx="535.7" cy="434.4" r="6.0"/><circle cx="463.0" cy="446.6" r="6.0"/><circle cx="492.3" cy="460.1" r="6.0"/><circle cx="561.3" cy="452.5" r="6.0"/><circle cx="599.8" cy="460.1" r="6.0"/><circle cx="537.4" cy="461.8" r="6.0"/><circle cx="499.0" cy="475.2" r="6.0"/><circle cx="515.3" cy="461.8" r="6.0"/><circle cx="521.7" cy="467.1" r="6.0"/><circle cx="553.2" cy="465.3" r="6.0"/><circle cx="560.8" cy="474.6" r="6.0"/><circle cx="571.3" cy="468.8" r="6.0"/><circle cx="471.0" cy="497.4" r="6.0"/><circle cx="623.7" cy="486.3" r="6.0"/><circle cx="628.4" cy="493.3" r="6.0"/><circle cx="581.7" cy="519.0" r="6.0"/><circle cx="409.7" cy="526.5" r="6.0"/><circle cx="446.5" cy="522.4" r="6.0"/><circle cx="456.4" cy="517.2" r="6.0"/><circle cx="492.0" cy="539.4" r="6.0"/><circle cx="421.0" cy="548.7" r="6.0"/><circle cx="472.7" cy="542.9" r="6.0"/><circle cx="561.9" cy="553.9" r="6.0"/><circle cx="554.3" cy="570.8" r="6.0"/><circle cx="616.7" cy="563.3" r="6.0"/><circle cx="623.1" cy="570.3" r="6.0"/><circle cx="553.8" cy="583.7" r="6.0"/><circle cx="575.9" cy="586.6" r="6.0"/><circle cx="593.3" cy="420.3" r="6.0"/><circle cx="555.4" cy="468.7" r="6.0"/><circle cx="561.2" cy="472.8" r="6.0"/><circle cx="637.6" cy="412.8" r="6.0"/><circle cx="677.8" cy="406.4" r="6.0"/><circle cx="667.1" cy="415.7" r="6.0"/><circle cx="695.9" cy="412.8" r="6.0"/><circle cx="702.3" cy="409.3" r="6.0"/><circle cx="712.8" cy="412.2" r="6.0"/><circle cx="740.8" cy="410.5" r="6.0"/><circle cx="759.4" cy="402.9" r="6.0"/><circle cx="768.2" cy="401.7" r="6.0"/><circle cx="653.9" cy="432.1" r="6.0"/><circle cx="680.7" cy="433.8" r="6.0"/><circle cx="692.4" cy="426.8" r="6.0"/><circle cx="718.0" cy="433.2" r="6.0"/><circle cx="744.9" cy="429.2" r="6.0"/><circle cx="754.2" cy="423.3" r="6.0"/><circle cx="809.0" cy="426.2" r="6.0"/><circle cx="799.1" cy="431.5" r="6.0"/><circle cx="795.6" cy="438.5" r="6.0"/><circle cx="674.9" cy="451.0" r="6.0"/><circle cx="713.0" cy="444.9" r="6.0"/><circle cx="749.5" cy="441.4" r="6.0"/><circle cx="776.7" cy="451.3" r="6.0"/><circle cx="793.3" cy="444.9" r="6.0"/><circle cx="655.9" cy="470.6" r="6.0"/><circle cx="709.3" cy="479.3" r="6.0"/><circle cx="756.5" cy="480.8" r="6.0"/><circle cx="824.2" cy="482.2" r="6.0"/><circle cx="841.3" cy="483.7" r="6.0"/><circle cx="867.9" cy="481.6" r="6.0"/><circle cx="633.5" cy="481.6" r="6.0"/><circle cx="781.0" cy="491.0" r="6.0"/><circle cx="775.8" cy="499.1" r="6.0"/><circle cx="830.3" cy="499.7" r="6.0"/><circle cx="630.0" cy="493.3" r="6.0"/><circle cx="690.6" cy="508.5" r="6.0"/><circle cx="695.9" cy="512.5" r="6.0"/><circle cx="741.7" cy="503.2" r="6.0"/><circle cx="741.7" cy="510.2" r="6.0"/><circle cx="712.8" cy="516.6" r="6.0"/><circle cx="715.1" cy="525.9" r="6.0"/><circle cx="762.9" cy="519.0" r="6.0"/><circle cx="768.2" cy="528.9" r="6.0"/><circle cx="748.4" cy="539.4" r="6.0"/><circle cx="803.2" cy="524.2" r="6.0"/><circle cx="808.4" cy="534.1" r="6.0"/><circle cx="854.5" cy="530.0" r="6.0"/><circle cx="706.4" cy="550.4" r="6.0"/><circle cx="800.8" cy="542.9" r="6.0"/><circle cx="810.2" cy="546.9" r="6.0"/><circle cx="832.3" cy="544.0" r="6.0"/><circle cx="741.7" cy="558.6" r="6.0"/><circle cx="860.9" cy="553.9" r="6.0"/><circle cx="816.0" cy="558.6" r="6.0"/><circle cx="832.9" cy="557.4" r="6.0"/><circle cx="642.2" cy="560.3" r="6.0"/><circle cx="704.6" cy="561.5" r="6.0"/><circle cx="862.1" cy="574.9" r="6.0"/><circle cx="857.4" cy="581.3" r="6.0"/><circle cx="730.3" cy="581.9" r="6.0"/><circle cx="736.7" cy="585.4" r="6.0"/><circle cx="532.2" cy="605.2" r="6.0"/><circle cx="570.7" cy="605.8" r="6.0"/><circle cx="550.8" cy="615.7" r="6.0"/><circle cx="552.4" cy="619.8" r="6.0"/><circle cx="594.0" cy="604.1" r="6.0"/><circle cx="582.3" cy="618.1" r="6.0"/><circle cx="407.1" cy="629.7" r="6.0"/><circle cx="409.2" cy="638.5" r="6.0"/><circle cx="492.2" cy="632.1" r="6.0"/><circle cx="494.9" cy="657.7" r="6.0"/><circle cx="506.2" cy="672.3" r="6.0"/><circle cx="582.3" cy="676.0" r="6.0"/><circle cx="548.3" cy="695.6" r="6.0"/><circle cx="418.5" cy="703.4" r="6.0"/><circle cx="436.3" cy="705.0" r="6.0"/><circle cx="479.4" cy="723.0" r="6.0"/><circle cx="642.2" cy="600.6" r="6.0"/><circle cx="856.2" cy="608.7" r="6.0"/><circle cx="704.9" cy="618.9" r="6.0"/><circle cx="731.2" cy="623.0" r="6.0"/><circle cx="644.6" cy="640.8" r="6.0"/><circle cx="820.7" cy="644.5" r="6.0"/><circle cx="746.6" cy="663.6" r="6.0"/><circle cx="816.6" cy="663.0" r="6.0"/><circle cx="804.9" cy="685.1" r="6.0"/><circle cx="853.3" cy="710.0" r="6.0"/><circle cx="735.3" cy="713.1" r="6.0"/><circle cx="494.6" cy="743.7" r="6.0"/><circle cx="444.7" cy="776.2" r="6.0"/><circle cx="669.2" cy="779.9" r="6.0"/><circle cx="777.4" cy="785.7" r="6.0"/><circle cx="547.0" cy="823.6" r="6.0"/><circle cx="675.4" cy="821.5" r="6.0"/><circle cx="414.9" cy="837.0" r="6.0"/><circle cx="559.5" cy="846.4" r="6.0"/><circle cx="675.4" cy="852.7" r="6.0"/><circle cx="777.4" cy="863.1" r="6.0"/><circle cx="478.7" cy="871.0" r="6.0"/><circle cx="620.1" cy="881.6" r="6.0"/><circle cx="522.4" cy="902.0" r="6.0"/><circle cx="541.6" cy="921.6" r="6.0"/><circle cx="513.2" cy="944.1" r="6.0"/><circle cx="904.3" cy="753.4" r="6.0"/><circle cx="886.7" cy="955.9" r="6.0"/><circle cx="887.8" cy="496.5" r="6.0"/><circle cx="883.2" cy="504.9" r="6.0"/><circle cx="886.7" cy="513.9" r="6.0"/><circle cx="897.9" cy="620.8" r="6.0"/><circle cx="882.6" cy="633.6" r="6.0"/><circle cx="943.3" cy="501.2" r="6.0"/><circle cx="952.6" cy="501.7" r="6.0"/><circle cx="982.4" cy="487.2" r="6.0"/><circle cx="996.4" cy="495.0" r="6.0"/><circle cx="1003.9" cy="526.4" r="6.0"/><circle cx="1017.0" cy="534.2" r="6.0"/><circle cx="965.1" cy="559.0" r="6.0"/><circle cx="965.7" cy="580.5" r="6.0"/><circle cx="932.6" cy="594.8" r="6.0"/><circle cx="960.1" cy="608.8" r="6.0"/><circle cx="959.1" cy="618.7" r="6.0"/><circle cx="826.6" cy="237.3" r="6.0"/><circle cx="844.4" cy="326.7" r="6.0"/><circle cx="856.1" cy="323.3" r="6.0"/><circle cx="855.0" cy="349.8" r="6.0"/><circle cx="822.7" cy="356.7" r="6.0"/><circle cx="810.4" cy="369.4" r="6.0"/><circle cx="792.1" cy="373.1" r="6.0"/><circle cx="850.5" cy="372.2" r="6.0"/><circle cx="853.3" cy="387.7" r="6.0"/><circle cx="869.6" cy="386.4" r="6.0"/><circle cx="922.6" cy="368.1" r="6.0"/><circle cx="831.3" cy="413.8" r="6.0"/><circle cx="899.6" cy="416.2" r="6.0"/><circle cx="1299.8" cy="426.7" r="6.0"/><circle cx="1281.8" cy="568.9" r="6.0"/><circle cx="1304.5" cy="691.5" r="6.0"/><circle cx="1249.9" cy="806.8" r="6.0"/><circle cx="1584.7" cy="823.6" r="6.0"/><circle cx="1151.4" cy="878.2" r="6.0"/><circle cx="1096.3" cy="897.2" r="6.0"/><circle cx="1278.5" cy="919.9" r="6.0"/><circle cx="1201.0" cy="958.5" r="6.0"/><circle cx="1298.6" cy="1047.2" r="6.0"/><circle cx="1423.2" cy="1035.2" r="6.0"/><circle cx="1448.9" cy="1032.7" r="6.0"/><circle cx="1455.9" cy="1030.2" r="6.0"/><circle cx="1185.3" cy="1154.7" r="6.0"/><circle cx="1092.6" cy="1171.8" r="6.0"/><circle cx="1452.9" cy="1219.1" r="6.0"/><circle cx="1301.7" cy="1240.9" r="6.0"/><circle cx="1351.5" cy="1285.7" r="6.0"/><circle cx="1469.6" cy="1352.1" r="6.0"/><circle cx="1583.0" cy="1365.8" r="6.0"/><circle cx="1176.6" cy="1387.1" r="6.0"/><circle cx="1663.0" cy="1489.5" r="6.0"/><circle cx="1698.5" cy="1534.0" r="6.0"/><circle cx="1718.4" cy="1562.8" r="6.0"/><circle cx="2094.3" cy="1347.6" r="6.0"/><circle cx="2053.4" cy="1492.0" r="6.0"/><circle cx="2211.4" cy="1591.8" r="6.0"/><circle cx="2235.2" cy="1656.9" r="6.0"/><circle cx="541.9" cy="1230.1" r="6.0"/><circle cx="658.1" cy="1225.0" r="6.0"/><circle cx="662.5" cy="1225.0" r="6.0"/><circle cx="661.1" cy="1279.3" r="6.0"/><circle cx="703.4" cy="1286.1" r="6.0"/><circle cx="625.9" cy="1367.2" r="6.0"/><circle cx="539.9" cy="1421.0" r="6.0"/><circle cx="611.3" cy="1468.5" r="6.0"/><circle cx="609.4" cy="1503.8" r="6.0"/><circle cx="946.9" cy="1523.7" r="6.0"/><circle cx="921.4" cy="1551.1" r="6.0"/><circle cx="691.9" cy="1590.3" r="6.0"/><circle cx="673.4" cy="1596.7" r="6.0"/><circle cx="791.0" cy="1591.1" r="6.0"/><circle cx="915.5" cy="1647.9" r="6.0"/><circle cx="976.3" cy="1649.1" r="6.0"/><circle cx="694.2" cy="990.9" r="6.0"/><circle cx="701.2" cy="1064.8" r="6.0"/><circle cx="436.9" cy="1070.7" r="6.0"/><circle cx="696.1" cy="1091.1" r="6.0"/><circle cx="663.9" cy="1096.7" r="6.0"/><circle cx="547.2" cy="1109.0" r="6.0"/><circle cx="625.3" cy="1142.1" r="6.0"/><circle cx="672.6" cy="1161.4" r="6.0"/><circle cx="815.3" cy="1169.5" r="6.0"/>
</g>
<path d="M569.6 1680.5v-21M569.6 77.6v21M863.3 1680.5v-21M863.3 77.6v21M1157.3 1680.5v-21M1157.3 77.6v21M1451.1 1680.5v-21M1451.1 77.6v21M1744.7 1680.5v-21M1744.7 77.6v21M2038.6 1680.5v-21M2038.6 77.6v21M276.0 1533.3h21M2333.0 1533.3h-21M276.0 1387.0h21M2333.0 1387.0h-21M276.0 1242.7h21M2333.0 1242.7h-21M276.0 1096.2h21M2333.0 1096.2h-21M276.0 952.0h21M2333.0 952.0h-21M276.0 805.5h21M2333.0 805.5h-21M276.0 661.3h21M2333.0 661.3h-21M276.0 514.9h21M2333.0 514.9h-21M276.0 370.9h21M2333.0 370.9h-21M276.0 224.3h21M2333.0 224.3h-21" stroke="#262626" stroke-width="3.4" fill="none"/>
<rect x="276.0" y="77.6" width="2057.0" height="1602.9" fill="none" stroke="#262626" stroke-width="3.7"/>
<text class="tk" x="273.5" y="1764.7" text-anchor="middle">0</text>
<text class="tk" x="567.1" y="1764.7" text-anchor="middle">0.5</text>
<text class="tk" x="860.8" y="1764.7" text-anchor="middle">1</text>
<text class="tk" x="1154.8" y="1764.7" text-anchor="middle">1.5</text>
<text class="tk" x="1448.6" y="1764.7" text-anchor="middle">2</text>
<text class="tk" x="1742.2" y="1764.7" text-anchor="middle">2.5</text>
<text class="tk" x="2036.1" y="1764.7" text-anchor="middle">3</text>
<text class="tk" x="2330.5" y="1764.7" text-anchor="middle">3.5</text>
<text class="tk" x="247.7" y="1700.4" text-anchor="end">0</text>
<text class="tk" x="247.7" y="1553.2" text-anchor="end">10</text>
<text class="tk" x="247.7" y="1406.9" text-anchor="end">20</text>
<text class="tk" x="247.7" y="1262.6" text-anchor="end">30</text>
<text class="tk" x="247.7" y="1116.1" text-anchor="end">40</text>
<text class="tk" x="247.7" y="971.9" text-anchor="end">50</text>
<text class="tk" x="247.7" y="825.4" text-anchor="end">60</text>
<text class="tk" x="247.7" y="681.2" text-anchor="end">70</text>
<text class="tk" x="247.7" y="534.8" text-anchor="end">80</text>
<text class="tk" x="247.7" y="390.8" text-anchor="end">90</text>
<text class="tk" x="247.7" y="244.2" text-anchor="end">100</text>
<text class="tk" x="247.7" y="97.5" text-anchor="end">110</text>
<text class="lb" x="1185" y="1852" text-anchor="start">H<tspan dx="3" dy="34" font-size="57px">8</tspan><tspan dx="2" dy="-34"> (m)</tspan></text>
<text class="lb" style="font-size:68.5px" transform="translate(98 880) rotate(-90)" text-anchor="middle">percent coverage</text>
<rect x="1953.7" y="139.0" width="317.60000000000014" height="228.5" fill="#fff" stroke="#262626" stroke-width="3.7"/>
<circle cx="2042.5" cy="182.3" r="6.0" fill="#ff0000"/>
<text class="lg" x="2126" y="201.1">V1.0</text>
<circle cx="2042.5" cy="253.3" r="6.0" fill="#00ff00"/>
<text class="lg" x="2126" y="272.1">V1.2</text>
<circle cx="2042.5" cy="324.3" r="6.0" fill="#0000ff"/>
<text class="lg" x="2126" y="343.1">V2.0</text>
</g>
</svg></body></html>
